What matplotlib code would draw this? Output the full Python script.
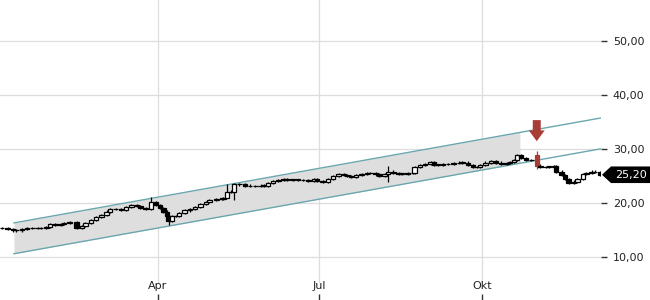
import numpy as np
import matplotlib
matplotlib.use('Agg')
import matplotlib.pyplot as plt
from matplotlib.patches import Rectangle, FancyArrow, Polygon
from matplotlib.ticker import FuncFormatter

# day of year (2021) and closing price
day_of_year = [3, 6, 9, 11, 14, 17, 20, 23, 25, 28, 30, 33, 36, 38, 41, 45, 48, 50, 53, 56,
               59, 62, 64, 67, 70, 73, 76, 79, 81, 84, 87, 90, 92, 94, 96, 97, 99, 101, 103, 106,
               109, 112, 115, 118, 120, 124, 127, 128, 130, 132, 134, 137, 140, 143, 146, 149, 151, 153, 156, 159,
               162, 164, 167, 170, 173, 176, 179, 181, 184, 187, 190, 193, 196, 198, 200, 203, 206, 209, 211, 214,
               216, 219, 221, 224, 227, 229, 232, 235, 236, 239, 242, 245, 247, 249, 252, 255, 258, 261, 263, 266,
               269, 271, 273, 276, 279, 282, 285, 288, 290, 292, 294, 296, 299, 302, 305, 307, 310, 312, 315, 316,
               319, 321, 323, 326, 328, 331, 333, 336, 338, 341]
close = [15.3, 15.2, 14.9, 14.9, 15.1, 15.3, 15.3, 15.3, 15.4, 15.6, 16.1, 15.9, 16.1, 16.35, 16.5, 15.3, 15.75, 16.25, 16.9, 17.35,
         17.8, 18.4, 18.8, 18.8, 18.7, 19.2, 19.6, 19.4, 19.0, 18.8, 20.2, 19.6, 19.1, 18.4, 17.6, 16.6, 17.5, 17.5, 18.1, 18.6,
         18.85, 19.3, 19.8, 20.1, 20.6, 20.75, 20.75, 20.9, 22.1, 22.0, 23.4, 23.5, 23.2, 23.1, 23.1, 23.2, 23.2, 23.7, 24.1, 24.3,
         24.4, 24.3, 24.3, 24.3, 24.2, 24.1, 24.4, 24.0, 23.9, 24.4, 25.0, 25.4, 25.2, 25.0, 24.75, 25.1, 25.4, 25.5, 25.5, 25.25,
         24.9, 25.25, 25.8, 25.5, 25.4, 25.4, 25.5, 25.5, 26.7, 27.0, 27.2, 27.6, 27.0, 27.0, 27.15, 27.2, 27.3, 27.45, 27.45, 27.0,
         26.6, 26.6, 27.0, 27.45, 27.8, 27.45, 27.2, 27.3, 27.5, 27.95, 28.9, 28.3, 27.9, 27.95, 26.9, 26.6, 26.7, 26.7, 26.8, 25.8,
         25.2, 24.4, 23.75, 23.95, 24.4, 25.4, 25.5, 25.8, 25.7, 25.2]

# days with longer wicks
spike_day = [87, 97, 130, 134, 221, 305]
spike_high = [21.0, 17.0, 23.5, 23.6, 26.8, 29.5]
spike_low = [18.6, 15.9, 21.8, 20.6, 23.9, 26.3]
signal_day = 305

# trend channel
channel_days = [9.6, 341.3]
channel_upper = [16.3, 35.7]
channel_lower = [10.6, 30.0]
channel_shade_end = 295.5

month_ticks = [91, 182, 274]
month_labels = ['Apr', 'Jul', 'Okt']
price_ticks = [10, 20, 30, 40, 50]

fig = plt.figure(figsize=(6.5, 3), dpi=100)
ax = fig.add_axes([0, 0, 601 / 650, 1])
ax.set_xlim(1.73, 341.3)
ax.set_ylim(2.05, 57.5)
for s in ax.spines.values():
    s.set_visible(False)

# grid
ax.set_yticks(price_ticks)
ax.grid(axis='y', color='#dddddd', lw=0.9, zorder=0)
for d in month_ticks:
    ax.axvline(d, ymin=0.06, color='#dddddd', lw=0.9, zorder=0)

# channel
teal = '#6aa7ae'
ax.plot(channel_days, channel_upper, color=teal, lw=1, zorder=2)
ax.plot(channel_days, channel_lower, color=teal, lw=1, zorder=2)
sx = np.array([channel_days[0], channel_shade_end])
ax.fill_between(sx, np.interp(sx, channel_days, channel_lower), np.interp(sx, channel_days, channel_upper),
                color='#dedede', lw=0, zorder=1)

# candles, each opening at the previous close
red = '#a83d35'
w = 2.5
for i, (d, c) in enumerate(zip(day_of_year, close)):
    o = close[i - 1] if i > 0 else c
    hi, lo = max(o, c) + 0.2, min(o, c) - 0.2
    if d in spike_day:
        j = spike_day.index(d)
        hi, lo = spike_high[j], spike_low[j]
        if d == signal_day:
            o = spike_high[j] - 0.6
    if d == signal_day:
        fc, ec = red, red
    else:
        fc = 'white' if c >= o else 'black'
        ec = 'black'
    ax.vlines(d, lo, hi, color=ec, lw=0.9, zorder=3)
    ax.add_patch(Rectangle((d - w / 2, min(o, c)), w, max(abs(c - o), 0.1),
                           facecolor=fc, edgecolor=ec, lw=0.9, zorder=4))

# sell signal arrow
ax.add_patch(FancyArrow(signal_day, spike_high[-1] + 5.8, 0, -3.9, width=4.5, head_width=9,
                        head_length=2.0, length_includes_head=True, color=red, lw=0, zorder=5))

# axes ticks
ax.yaxis.tick_right()
ax.yaxis.set_major_formatter(FuncFormatter(lambda v, p: f'{v:.2f}'.replace('.', ',')))
ax.tick_params(axis='y', direction='out', length=4, width=1, color='#333333',
               labelsize=8, labelcolor='#222222', pad=4.5)
ax.set_xticks(month_ticks)
ax.set_xticklabels(month_labels)
ax.tick_params(axis='x', direction='in', length=4, width=1, color='#333333',
               labelsize=8, labelcolor='#222222', pad=-14)

# last price tag
last = close[-1]
yc = (last - 2.05) / (57.5 - 2.05)
hh = 8.3 / 300
tag = Polygon([(602 / 601, yc), (611 / 601, yc + hh), (650 / 601, yc + hh), (650 / 601, yc - hh), (611 / 601, yc - hh)],
              closed=True, transform=ax.transAxes, facecolor='black', edgecolor='none', clip_on=False, zorder=6)
ax.add_patch(tag)
ax.text(630.5 / 601, yc, f'{last:.2f}'.replace('.', ','), transform=ax.transAxes, color='white',
        fontsize=8, ha='center', va='center', zorder=7, clip_on=False)

fig.savefig('out.png', dpi=100)
